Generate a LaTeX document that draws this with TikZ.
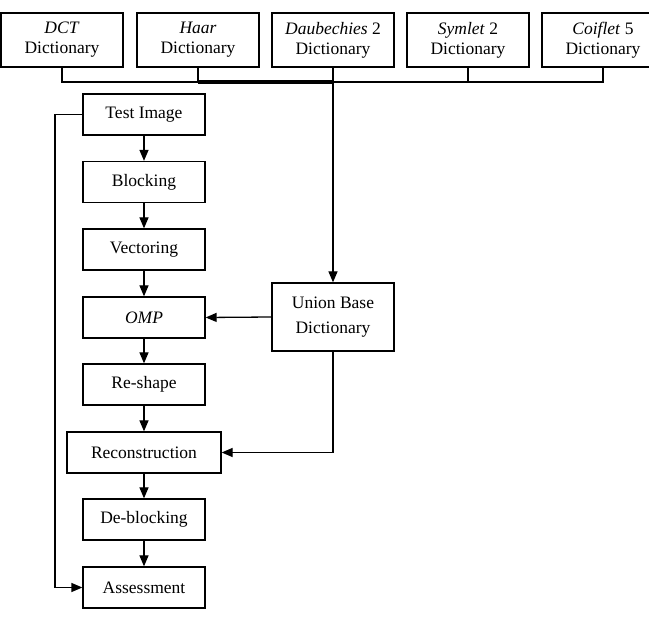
\documentclass[tikz,border=0pt]{standalone}
\usepackage{fontspec}
\setmainfont{Liberation Serif}
\usetikzlibrary{arrows.meta}
\begin{document}
\begin{tikzpicture}[x=1pt,y=-1pt,
 box/.style={draw,line width=1.3pt,minimum width=122pt,minimum height=41pt,inner sep=0pt,align=center,font=\fontsize{17.5}{20}\selectfont},
 dbox/.style={box,minimum height=54pt},
 ln/.style={line width=1.3pt},
 arr/.style={ln,-{Triangle[length=11pt,width=9pt]}}]
\useasboundingbox (0,0) rectangle (649,620);
% dictionaries
\node[dbox] (d1) at (62,40) {\textit{DCT}\\Dictionary};
\node[dbox] (d2) at (198,40) {\textit{Haar}\\Dictionary};
\node[dbox] (d3) at (333,40) {\textit{Daubechies} 2\\Dictionary};
\node[dbox] (d4) at (468,40) {\textit{Symlet} 2\\Dictionary};
\node[dbox] (d5) at (603,40) {\textit{Coiflet} 5\\Dictionary};
% flow
\node[box] (test) at (144,114.5) {Test Image};
\node[box] (blk) at (144,182) {Blocking};
\node[box] (vec) at (144,249.5) {Vectoring};
\node[box] (omp) at (144,317.5) {\textit{OMP}};
\node[box] (res) at (144,384.5) {Re-shape};
\node[box,minimum width=154pt] (rec) at (144,452.5) {Reconstruction};
\node[box] (deb) at (144,519.5) {De-blocking};
\node[box] (ass) at (144,587.5) {Assessment};
\node[box,minimum height=68pt] (uni) at (333,317) {Union Base\\[5pt]Dictionary};
% bus
\coordinate (b1) at (d1.south |- 0,82);
\coordinate (b2) at (d2.south |- 0,82);
\coordinate (b3) at (d3.south |- 0,82);
\coordinate (b4) at (d4.south |- 0,82);
\coordinate (b5) at (d5.south |- 0,82);
\draw[ln] (d1.south) -- (b1) -- (b5) -- (d5.south);
\draw[ln] (d2.south) -- (b2);
\draw[ln] (d4.south) -- (b4);
\draw[line width=3.2pt] (b2) -- (b3);
\draw[ln] (d3.south) -- (b3);
\draw[arr] (b3) -- (uni.north);
% chain
\draw[arr] (test) -- (blk);
\draw[arr] (blk) -- (vec);
\draw[arr] (vec) -- (omp);
\draw[arr] (omp) -- (res);
\draw[arr] (res) -- (rec);
\draw[arr] (rec) -- (deb);
\draw[arr] (deb) -- (ass);
\draw[arr] (uni.west) -- (omp.east);
\draw[arr] (uni.south) |- (rec.east);
\coordinate (lt) at (55,114.5);
\coordinate (lb) at (55,587.5);
\draw[arr] (test.west) -- (lt) -- (lb) -- (ass.west);
\end{tikzpicture}
\end{document}
